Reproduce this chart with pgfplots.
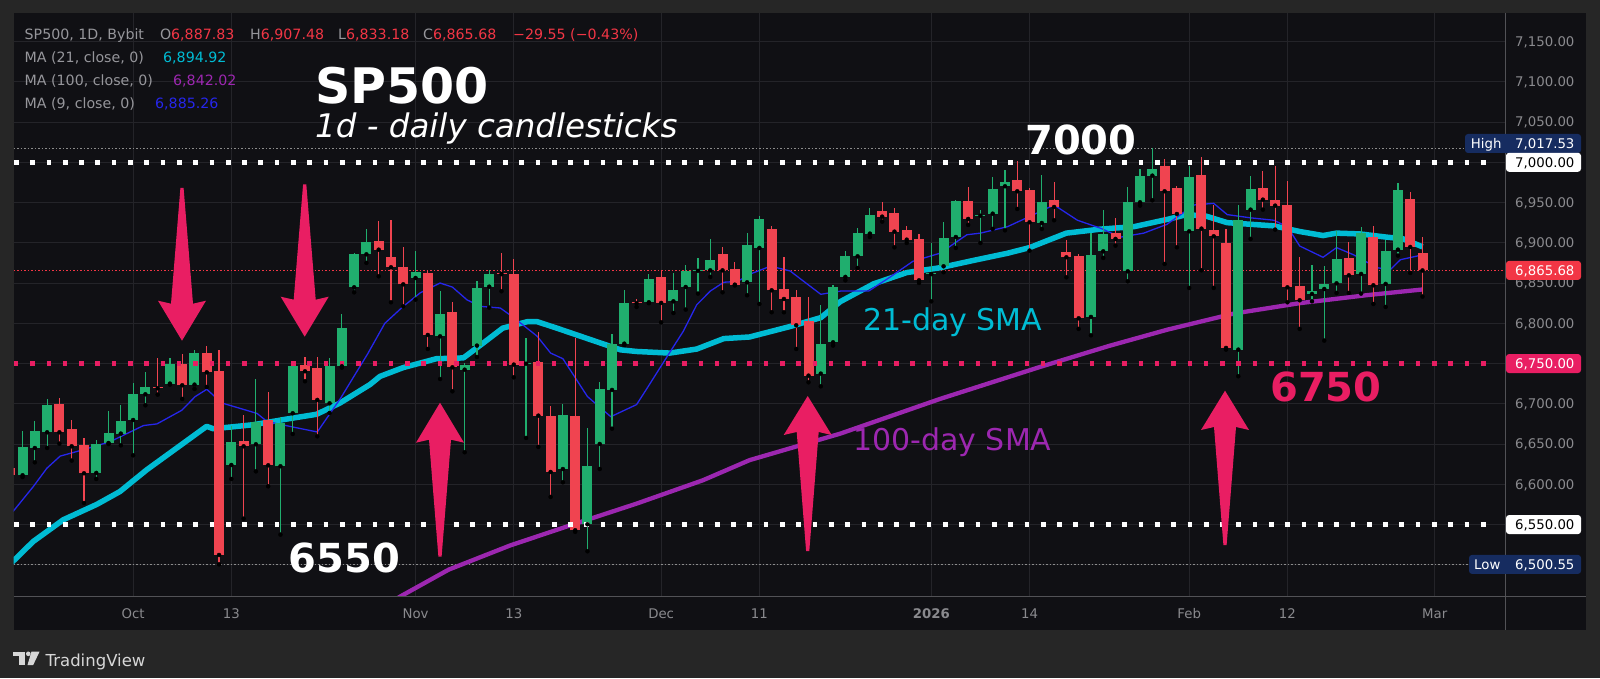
\documentclass[border=0pt]{standalone}
\usepackage{pgfplots}
\pgfplotsset{compat=1.18}
\usepackage{pgfplotstable}
\usepackage{fontspec}
\setmainfont{DejaVu Sans}
\definecolor{outerbg}{RGB}{38,38,38}
\definecolor{panelbg}{RGB}{16,16,20}
\definecolor{gridc}{RGB}{36,36,41}
\definecolor{sepc}{RGB}{82,82,86}
\definecolor{labc}{RGB}{138,138,142}
\definecolor{hdrc}{RGB}{150,150,155}
\definecolor{cgreen}{RGB}{32,174,110}
\definecolor{cred}{RGB}{240,68,80}
\definecolor{tagred}{RGB}{242,54,69}
\definecolor{pinkc}{RGB}{233,30,99}
\definecolor{cyanc}{RGB}{0,188,212}
\definecolor{purplec}{RGB}{156,39,176}
\definecolor{bluec}{RGB}{38,38,235}
\definecolor{navyc}{RGB}{22,44,96}
\definecolor{dotgrey}{RGB}{140,140,140}
\definecolor{logoc}{RGB}{215,215,215}

\pgfplotstableread{
i o h l c
-9 6611.2 6666.7 6609 6646.0
-8 6645.1 6679.1 6627.3 6666.7
-7 6664.6 6706.0 6645.1 6699.0
-3 6614.1 6655.5 6606.6 6650.1
-2 6651.3 6691.5 6650 6663.8
-1 6663.0 6699.0 6648.4 6679.1
0 6679.9 6725.9 6636.0 6712.6
1 6711.8 6739.1 6698.1 6720.9
3 6725.1 6756.9 6723.8 6749.5
5 6723.8 6767.3 6718.4 6762.7
8 6624.0 6672.9 6606.6 6652.2
10 6649.7 6731.3 6616.1 6677.0
12 6622.4 6683.6 6537.5 6676.2
13 6688.2 6748.5 6662.5 6747.4
16 6700.6 6756.9 6688.6 6747.4
17 6746.6 6812.0 6745 6794.6
18 6844.7 6887 6838.5 6886.5
19 6885.7 6917.6 6875.0 6900.6
23 6856.3 6889.4 6829.4 6864.2
25 6783.8 6840.6 6730.8 6811.2
27 6742.4 6750.7 6639.8 6748.7
28 6772.3 6853.0 6758.2 6844.3
29 6845.5 6865.8 6819.5 6860.9
32 6749.8 6781.8 6657.6 6751.0
35 6619.0 6699.4 6602.5 6686.1
37 6550.3 6670.0 6516.8 6623.2
38 6650.1 6726.7 6619.0 6718.8
39 6717.2 6787.2 6669.1 6774.7
40 6774.7 6841.8 6773 6825.3
42 6826.1 6861.7 6825 6855.1
44 6827.3 6862.5 6812.8 6841.8
45 6845.1 6872.9 6817.0 6864.6
46 6865.2 6881.2 6836.9 6866.4
47 6865.8 6905.2 6857.6 6879.1
50 6850.9 6912.2 6834.8 6897.7
51 6893.6 6933.7 6824.0 6930.0
56 6737.5 6823.2 6721.7 6774.3
57 6776.4 6848.0 6772.3 6845.1
58 6857.6 6890.3 6853.4 6884.1
59 6883.2 6918.4 6868.7 6912.2
60 6911.4 6943.3 6907.2 6935.0
65 6861.1 6899.8 6827.3 6862.3
66 6870.8 6926.3 6863.4 6906.0
67 6907.2 6953.6 6893.6 6951.6
69 6933.6 6941.2 6899.8 6934.8
70 6936.2 6981.8 6917.2 6967.3
71 6970.2 6990.1 6915.5 6976.0
74 6924.6 6984.7 6917.2 6950.3
78 6807.9 6912.2 6785.1 6884.5
79 6889.4 6940.4 6881.2 6911.0
81 6864.6 6969.4 6852.2 6950.3
82 6950.3 6992.1 6946.2 6982.6
83 6983.4 7017.53 6952.8 6991.7
86 6914.3 6995.9 6843.9 6981.8
90 6767.3 6947.4 6734.2 6928.0
91 6941.2 6983.4 6904.8 6966.9
96 6836.4 6872.5 6827.3 6840.6
97 6842.6 6871.6 6778.5 6849.3
98 6849.7 6915.1 6837.7 6880.3
100 6861.3 6919.3 6836.9 6912.2
102 6848.9 6903.1 6820.3 6890.3
103 6891.5 6974.3 6884.1 6966.0
}\greentab

\pgfplotstableread{
i o h l c
-10 6620 6624 6606 6611
-6 6700.2 6707.2 6650.5 6664.6
-5 6668.7 6680.3 6629.4 6647.2
-4 6649.3 6657.6 6576.8 6613.7
2 6720.5 6756.9 6711.4 6719.3
4 6749.9 6762.3 6706.0 6723.0
6 6762.7 6772.3 6720.9 6739.1
7 6740.4 6767.3 6500.55 6512.2
9 6653.4 6686.5 6557.3 6647.2
11 6679.9 6714.7 6597.5 6623.6
14 6748.7 6758.2 6728.0 6740.4
15 6744.9 6758.2 6659.6 6704.8
20 6901.9 6926.7 6858.4 6891.5
21 6882.4 6928.8 6826.1 6869.6
22 6869.6 6894.8 6821.1 6848.4
24 6862.5 6864.6 6768.1 6785.5
26 6814.1 6826.9 6715.5 6745.3
30 6862.3 6887.4 6839.8 6861.1
31 6861.7 6880.3 6732.9 6748.7
33 6752.4 6789.6 6646.4 6685.3
34 6684.5 6697.7 6584.3 6615.3
36 6685.3 6781.8 6541 6542.9
41 6825.9 6830.2 6820.3 6824.7
43 6857.6 6864.6 6801.2 6825.3
48 6886.1 6894.8 6838.5 6865.8
49 6867.9 6876.2 6847 6848.0
52 6917.2 6921.3 6813.7 6841.0
53 6843.1 6882.0 6813.7 6830.2
54 6832.7 6841.0 6768.1 6797.5
55 6803.3 6832.7 6726.7 6735.0
61 6940.0 6950.7 6926.3 6932.5
62 6937.1 6943.3 6894.4 6913.9
63 6915.5 6920.5 6899.8 6903.9
64 6905.2 6911.4 6850.1 6853.4
68 6952.4 6969.8 6922.2 6929.6
72 6978.5 7001.2 6942.0 6964.0
73 6966.0 6968.1 6890.3 6925.5
75 6953.2 6975.6 6928.0 6944.5
76 6888.6 6903.9 6857.1 6882.0
77 6884.1 6886.1 6793.0 6806.2
80 6912.2 6930.8 6896.5 6904.8
84 6995.0 7004.1 6873.7 6964.0
85 6968.1 6971.0 6894.4 6935.8
87 6984.7 7006.6 6865.8 6917.6
88 6915.5 6946.6 6843.9 6908.1
89 6899.8 6917.2 6767.3 6769.4
92 6968.5 6989.6 6941.2 6953.6
93 6953.6 6995.9 6916.4 6946.2
94 6947.4 6977.2 6826.1 6844.7
95 6846.0 6882.0 6793.0 6828.6
99 6881.2 6900.6 6837.7 6859.6
101 6907.2 6921.3 6824.0 6847.2
104 6954.9 6962.7 6862.5 6894.8
105 6887.83 6907.48 6833.18 6865.68
}\redtab

\newcommand{\dnarr}[4]{%
 \fill[pinkc] ({#1-1.6},{678-#2}) -- ({#1+1.6},{678-#2}) -- ({#1+11},{678-#3-3}) -- ({#1+24},{678-#3}) -- (#1,{678-#4}) -- ({#1-24},{678-#3}) -- ({#1-11},{678-#3-3}) -- cycle;}
\newcommand{\uparr}[4]{%
 \fill[pinkc] ({#1-1.6},{678-#2}) -- ({#1+1.6},{678-#2}) -- ({#1+11},{678-#3+3}) -- ({#1+24},{678-#3}) -- (#1,{678-#4}) -- ({#1-24},{678-#3}) -- ({#1-11},{678-#3+3}) -- cycle;}
\newcommand{\tagfont}{\fontsize{13.3}{15}\selectfont}
\newcommand{\hdrfont}{\fontsize{14.2}{17}\selectfont}
\newcommand{\tagbox}[6]{% x0, Ycenter, fill, textcolor, text, textx
 \fill[#3, rounded corners=3pt] (#1,{#2-9.5}) rectangle (1581,{#2+9.5});
 \node[anchor=base west, inner sep=0pt, text=#4, font=\tagfont] at (#6,{#2-4.8}) {#5};}

\begin{document}
\begin{tikzpicture}[x=1pt,y=1pt]
\useasboundingbox (0,0) rectangle (1600,678);
\fill[outerbg] (0,0) rectangle (1600,678);
\fill[panelbg] (13.5,48) rectangle (1586,664.5);
\begin{axis}[
  at={(13.5pt,82pt)}, anchor=south west,
  scale only axis, width=1491.5pt, height=582.5pt,
  xmin=-9.739, xmax=111.718, ymin=6461.24, ymax=7184.84,
  axis line style={draw=none},
  major tick length=0pt,
  grid=major, major grid style={draw=gridc, line width=1pt},
  xtick={0,8,23,31,43,51,65,73,86,94,106},
  xticklabels={Oct,13,Nov,13,Dec,11,\textbf{2026},14,Feb,12,Mar},
  xticklabel style={anchor=base, yshift=-22.8pt, inner sep=0pt, font=\fontsize{13.3}{15}\selectfont, text=labc},
  ytick={6500,6550,6600,6650,6700,6750,6800,6850,6900,6950,7000,7050,7100,7150},
  yticklabel pos=right,
  scaled y ticks=false,
  yticklabel style={anchor=base west, xshift=10pt, yshift=-4.8pt, inner sep=0pt, font=\fontsize{13.3}{15}\selectfont, text=labc,
    /pgf/number format/fixed, /pgf/number format/fixed zerofill, /pgf/number format/precision=2, /pgf/number format/1000 sep={,}},
  /pgf/number format/assume math mode=true,
]
% thin reference lines
\addplot[dotgrey, line width=1pt, dash pattern=on 1.5pt off 2pt] coordinates {(-9.739,7017.53) (111.718,7017.53)};
\addplot[dotgrey, line width=1pt, dash pattern=on 1.5pt off 2pt] coordinates {(-9.739,6500.55) (111.718,6500.55)};
\addplot[tagred, line width=1pt, dash pattern=on 1.5pt off 2pt] coordinates {(-9.739,6865.68) (111.718,6865.68)};
% MA 100
\addplot[purplec, line width=4.3pt, line join=round] coordinates {
(19.5,6440) (21.8,6461) (25.7,6494) (30.7,6524) (35.6,6549) (41,6576) (46.4,6605) (50.2,6630) (57.6,6663) (65.7,6706) (73.9,6746) (79.5,6772) (84.2,6792) (89.6,6812) (95,6825) (100.5,6835) (105,6842)};
% MA 21
\addplot[cyanc, line width=5.5pt, line join=round] coordinates {
(-10,6501) (-8.13,6529) (-5.68,6556) (-2.96,6575) (-1.07,6591) (1.11,6618) (3.55,6645) (5.99,6672) (6.53,6669) (9.79,6674) (12.5,6681) (14.95,6687) (16.85,6701) (19.3,6724) (20.1,6734) (22,6745) (24.7,6756) (26.9,6757) (28.3,6773) (30.1,6794) (32.1,6802) (32.9,6802) (34.5,6794) (37,6781) (39.7,6767) (41,6765) (43.7,6763) (45.9,6768) (48.1,6781) (50.2,6783) (53.5,6796) (56,6807) (57.6,6827) (60.3,6849) (63,6863) (65.7,6869) (68.4,6878) (71.2,6887) (73,6894) (76,6912) (78.8,6917) (81.5,6920) (84.2,6929) (85.8,6935) (87.4,6933) (89.1,6925) (91,6923) (92.9,6921) (95,6914) (96.9,6909) (98,6912) (99.9,6911) (102.1,6907) (103.4,6905) (105,6895)};
% MA 9
\addplot[bluec, line width=1.3pt, line join=round] coordinates {
(-10,6562) (-8.11,6597.5) (-7.02,6620) (-5.94,6635) (-4.04,6643) (-1.86,6653) (0.85,6673) (1.94,6675) (3.97,6692) (5.06,6709) (6,6718) (7.23,6701) (9,6693) (10.1,6688) (10.9,6678) (13.06,6671) (15,6665) (16.9,6707) (19.1,6762) (20.5,6800) (22,6821) (23.4,6838) (25,6850) (26,6845) (27.2,6829) (28.3,6821) (29.9,6819) (31,6807) (32.9,6784) (34,6763) (35,6756) (37,6709) (38.9,6684) (41,6699) (41.8,6718) (43.5,6759) (44.8,6790) (45.9,6823) (47,6840) (48.1,6851) (49.2,6852) (50.4,6862) (51.9,6871) (53.5,6865) (56,6836) (57.6,6840) (59.9,6840) (61.7,6858) (63.5,6877) (65.7,6887) (67.9,6910) (69,6912) (71.2,6920) (73.05,6933) (75,6947) (76.9,6928) (78.8,6918) (80.4,6907) (82.3,6912) (84.2,6923) (86.4,6947) (88,6949) (89.1,6935) (91,6931) (92.9,6928) (94,6920) (95,6896) (96.9,6882) (98,6894) (99.4,6885) (101.3,6869) (102.4,6867) (103.2,6879) (105,6885)};
% candles: wicks
\addplot[forget plot, only marks, mark=none, error bars/.cd, y dir=plus, y explicit, error mark=none,
  error bar style={draw=cgreen, line width=1.15pt, solid}]
  table[x=i, y=l, y error expr={\thisrow{h}-\thisrow{l}}] {\greentab};
\addplot[forget plot, only marks, mark=none, error bars/.cd, y dir=plus, y explicit, error mark=none,
  error bar style={draw=cred, line width=1.15pt, solid}]
  table[x=i, y=l, y error expr={\thisrow{h}-\thisrow{l}}] {\redtab};
% candles: bodies
\addplot[forget plot, only marks, mark=none, error bars/.cd, y dir=plus, y explicit, error mark=none,
  error bar style={draw=cgreen, line width=10pt, solid}]
  table[x=i, y=o, y error expr={max(\thisrow{c}-\thisrow{o},1.3)}] {\greentab};
\addplot[forget plot, only marks, mark=none, error bars/.cd, y dir=plus, y explicit, error mark=none,
  error bar style={draw=cred, line width=10pt, solid}]
  table[x=i, y=c, y error expr={max(\thisrow{o}-\thisrow{c},1.3)}] {\redtab};
% bold dotted levels
\addplot[white, line width=4.7pt, dash pattern=on 4.7pt off 11.6pt] coordinates {(-9.70,7000) (111.0,7000)};
\addplot[white, line width=4.7pt, dash pattern=on 4.7pt off 11.6pt] coordinates {(-9.70,6550) (111.0,6550)};
\addplot[pinkc, line width=4.5pt, dash pattern=on 4.5pt off 11.8pt] coordinates {(-9.70,6750) (111.0,6750)};
\end{axis}
% separators
\draw[sepc, line width=1pt] (1505,48) -- (1505,664.5);
\draw[sepc, line width=1pt] (13.5,82) -- (1586,82);
% price tags
\tagbox{1465}{534.5}{navyc}{white}{7,017.53}{1515}
\node[anchor=base west, inner sep=0pt, text=white, font=\tagfont] at (1470.7,529.7) {High};
\tagbox{1506}{515.7}{white}{black}{7,000.00}{1515}
\tagbox{1506}{407.6}{tagred}{white}{6,865.68}{1515}
\tagbox{1506}{314.45}{pinkc}{white}{6,750.00}{1515}
\tagbox{1506}{153.45}{white}{black}{6,550.00}{1515}
\tagbox{1469}{113.6}{navyc}{white}{6,500.55}{1515}
\node[anchor=base west, inner sep=0pt, text=white, font=\tagfont] at (1474,108.8) {Low};
% header
\begin{scope}[every node/.style={anchor=base west, inner sep=0pt, font=\hdrfont, text=hdrc}]
\node at (24.5,638) {SP500, 1D, Bybit};
\node at (159.8,638) {O\textcolor{tagred}{6,887.83}};
\node at (250,638) {H\textcolor{tagred}{6,907.48}};
\node at (338,638) {L\textcolor{tagred}{6,833.18}};
\node at (423,638) {C\textcolor{tagred}{6,865.68}};
\node[text=tagred] at (513,638) {−29.55 (−0.43\%)};
\node at (24.5,615) {MA (21, close, 0)};
\node[text=cyanc] at (163,615) {6,894.92};
\node at (24.5,592) {MA (100, close, 0)};
\node[text=purplec] at (173,592) {6,842.02};
\node at (24.5,569.5) {MA (9, close, 0)};
\node[text=bluec] at (155,569.5) {6,885.26};
\end{scope}
% titles and labels
\node[anchor=base west, inner sep=0pt, text=white, font=\fontsize{49}{55}\selectfont\bfseries] at (315,574.7) {SP500};
\node[anchor=base west, inner sep=0pt, text=white, font=\fontsize{32.5}{38}\selectfont\itshape] at (315,540) {1d - daily candlesticks};
\node[anchor=base west, inner sep=0pt, text=white, font=\fontsize{40}{46}\selectfont\bfseries] at (1025,523) {7000};
\node[anchor=base west, inner sep=0pt, text=white, font=\fontsize{40}{46}\selectfont\bfseries] at (288.6,106) {6550};
\node[anchor=base west, inner sep=0pt, text=pinkc, font=\fontsize{40}{46}\selectfont\bfseries] at (1270,276.3) {6750};
\node[anchor=base west, inner sep=0pt, text=cyanc, font=\fontsize{30}{36}\selectfont] at (863,347.3) {21-day SMA};
\node[anchor=base west, inner sep=0pt, text=purplec, font=\fontsize{30}{36}\selectfont] at (853,228) {100-day SMA};
% arrows
\dnarr{182}{188}{300.7}{340.7}
\dnarr{304.7}{184.3}{296.7}{336.7}
\uparr{440}{556.7}{442.7}{402.7}
\uparr{807.7}{551}{435}{396}
\uparr{1225}{545}{430}{390.7}
% TradingView logo
\fill[logoc] (13,22.5) rectangle (24.5,26.5);
\fill[logoc] (19,13) rectangle (24.5,26.5);
\fill[logoc] (28.3,24.2) circle (2.3);
\fill[logoc] (31.5,26.5) -- (39.6,26.5) -- (33.2,13) -- (27.5,13) -- cycle;
\node[anchor=base west, inner sep=0pt, text=logoc, font=\fontsize{16.5}{19}\selectfont] at (45.5,12) {TradingView};
\end{tikzpicture}
\end{document}
